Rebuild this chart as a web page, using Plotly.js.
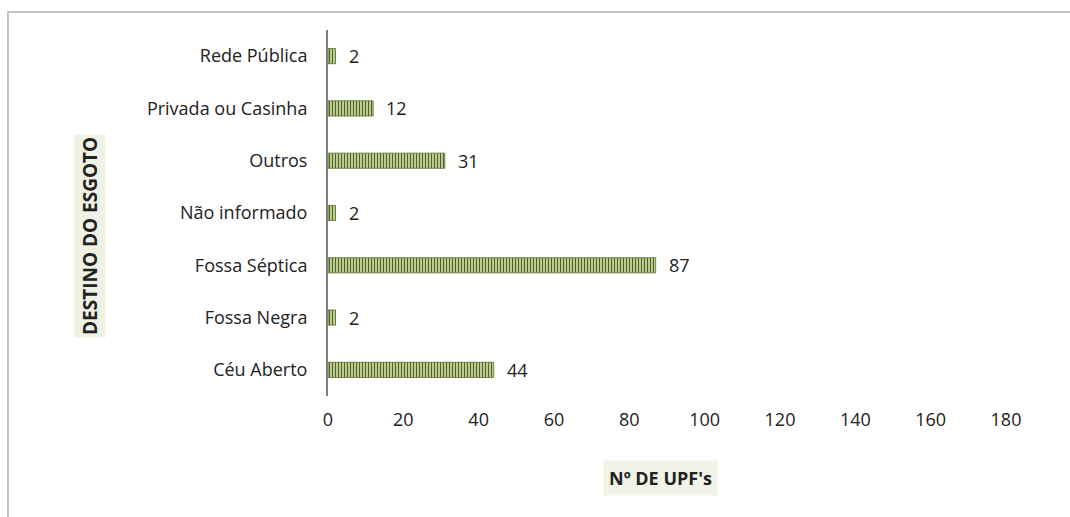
<!DOCTYPE html>
<html><head><meta charset="utf-8">
<script src="https://cdn.plot.ly/plotly-3.0.1.min.js"></script>
<style>body{margin:0;background:#fff}#c{width:1070px;height:517px}</style>
</head><body><div id="c"></div>
<script>
const categories = ["Céu Aberto","Fossa Negra","Fossa Séptica","Não informado","Outros","Privada ou Casinha","Rede Pública"];
const values = [44, 2, 87, 2, 31, 12, 2];
const xTicks = [0,20,40,60,80,100,120,140,160,180];
const xTitle = "Nº DE UPF's";
const yTitle = "DESTINO DO ESGOTO";

const F = "Open Sans, DejaVu Sans, sans-serif";
const trace = {
  type: "bar", orientation: "h",
  y: categories, x: values,
  marker: {
    color: "#d3e0a8",
    line: {color: "#5a6e2a", width: 0.8},
    pattern: {shape: "|", fgcolor: "#4f6228", bgcolor: "#d3e0a8", size: 3, solidity: 0.45}
  },
  hoverinfo: "none"
};
const labelAnns = categories.map((c, i) => ({
  x: values[i], y: c, xref: "x", yref: "y", text: String(values[i]),
  showarrow: false, xanchor: "left", yanchor: "middle", xshift: 11,
  font: {family: F, size: 18, color: "#222"}
}));
const layout = {
  width: 1070, height: 517,
  margin: {l: 328, r: 64, t: 30, b: 121},
  paper_bgcolor: "#fff", plot_bgcolor: "#fff",
  bargap: 0.71,
  showlegend: false,
  xaxis: {range: [0, 180], tickvals: xTicks, showgrid: false, zeroline: false, showline: false,
    ticks: "", tickfont: {family: F, size: 18, color: "#222"}, ticklabelstandoff: 11, fixedrange: true},
  yaxis: {showgrid: false, zeroline: false, showline: true, linecolor: "#808080", linewidth: 2,
    ticks: "", tickfont: {family: F, size: 18, color: "#222"}, ticklabelstandoff: 15,
    categoryorder: "array", categoryarray: categories, fixedrange: true},
  shapes: [
    {type: "rect", xref: "paper", yref: "paper", x0: -0.472, x1: 1.2, y0: -0.4, y1: 1.049,
     line: {color: "#b0b0b0", width: 1.5}, fillcolor: "rgba(0,0,0,0)", layer: "below"}
  ],
  annotations: labelAnns.concat([
    {text: "<b>" + xTitle + "</b>", xref: "paper", yref: "paper", x: (660-328)/678, y: (396-478)/366,
     showarrow: false, font: {family: F, size: 18, color: "#222"}, bgcolor: "#f1f3e6",
     borderpad: 5, xanchor: "center", yanchor: "middle"},
    {text: "<b>" + yTitle + "</b>", xref: "paper", yref: "paper", x: (90-328)/678, y: (396-236)/366,
     textangle: -90, showarrow: false, font: {family: F, size: 19, color: "#222"}, bgcolor: "#eff1e2",
     borderpad: 2, xanchor: "center", yanchor: "middle"}
  ])
};
Plotly.newPlot("c", [trace], layout, {displayModeBar: false, staticPlot: true});
</script></body></html>
